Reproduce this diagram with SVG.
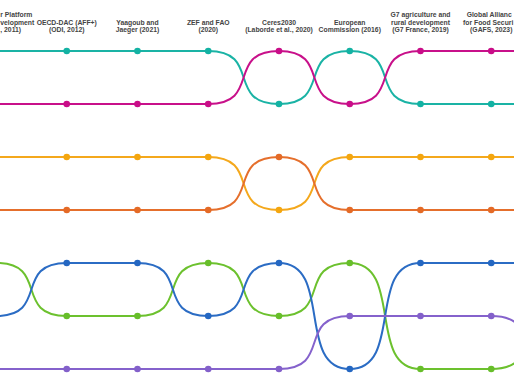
<svg xmlns="http://www.w3.org/2000/svg" width="514" height="386" viewBox="0 0 514 386">
<style>
.flow{fill:none;stroke-width:2;stroke-linejoin:round}
.lbl{font-family:"Liberation Sans",Arial,sans-serif;font-size:6.8px;font-weight:bold;fill:#444;text-anchor:middle}
.st{text-anchor:start}
.s-teal{stroke:#1AB3A5}.s-mag{stroke:#C8108A}.s-yel{stroke:#F4A81C}.s-org{stroke:#E56F2C}.s-blu{stroke:#2B6CC4}.s-grn{stroke:#6CC12E}.s-pur{stroke:#8562CC}
.teal{fill:#13B2A3}.mag{fill:#C90D88}.yel{fill:#F4A60F}.org{fill:#E46A26}.blu{fill:#2467C2}.grn{fill:#67BE2A}.pur{fill:#8360CA}
</style>
<rect width="514" height="386" fill="#fff"/>
<g id="connectors">
<path class="flow s-teal" d="M-4,51 L208.25,51 C262.05,51 225.2,104 279,104 C332.8,104 295.95,51 349.75,51 C403.55,51 366.7,104 420.5,104 L562,104"/>
<path class="flow s-mag" d="M-4,104 L208.25,104 C262.05,104 225.2,51 279,51 C332.8,51 295.95,104 349.75,104 C403.55,104 366.7,51 420.5,51 L562,51"/>
<path class="flow s-yel" d="M-4,157 L208.25,157 C262.05,157 225.2,210 279,210 C332.8,210 295.95,157 349.75,157 L562,157"/>
<path class="flow s-org" d="M-4,210 L208.25,210 C262.05,210 225.2,157 279,157 C332.8,157 295.95,210 349.75,210 L562,210"/>
<path class="flow s-grn" d="M-4,263 C49.8,263 12.95,316 66.75,316 L137.5,316 C191.3,316 154.45,263 208.25,263 C262.05,263 225.2,316 279,316 C332.8,316 295.95,263 349.75,263 C403.55,263 366.7,369 420.5,369 L491.25,369 C545.05,369 508.2,316 562,316"/>
<path class="flow s-blu" d="M-4,316 C49.8,316 12.95,263 66.75,263 L137.5,263 C191.3,263 154.45,316 208.25,316 C262.05,316 225.2,263 279,263 C332.8,263 295.95,369 349.75,369 C403.55,369 366.7,263 420.5,263 L562,263"/>
<path class="flow s-pur" d="M-4,369 L279,369 C332.8,369 295.95,316 349.75,316 L491.25,316 C545.05,316 508.2,369 562,369"/>
</g>
<g id="col-gdprd">
<text class="lbl st" x="0.3" y="17.4">r Platform</text>
<text class="lbl st" x="0.3" y="24.9">velopment</text>
<text class="lbl st" x="0.3" y="32.4">, 2011)</text>
</g>
<g id="col-oecd">
<text class="lbl" x="66.75" y="24.9">OECD-DAC (AFF+)</text>
<text class="lbl" x="66.75" y="32.4">(ODI, 2012)</text>
<circle class="teal" cx="66.75" cy="51" r="3.3"/><circle class="mag" cx="66.75" cy="104" r="3.3"/><circle class="yel" cx="66.75" cy="157" r="3.3"/><circle class="org" cx="66.75" cy="210" r="3.3"/><circle class="blu" cx="66.75" cy="263" r="3.3"/><circle class="grn" cx="66.75" cy="316" r="3.3"/><circle class="pur" cx="66.75" cy="369" r="3.3"/>
</g>
<g id="col-yaagoub">
<text class="lbl" x="137.5" y="24.9">Yaagoub and</text>
<text class="lbl" x="137.5" y="32.4">Jaeger (2021)</text>
<circle class="teal" cx="137.5" cy="51" r="3.3"/><circle class="mag" cx="137.5" cy="104" r="3.3"/><circle class="yel" cx="137.5" cy="157" r="3.3"/><circle class="org" cx="137.5" cy="210" r="3.3"/><circle class="blu" cx="137.5" cy="263" r="3.3"/><circle class="grn" cx="137.5" cy="316" r="3.3"/><circle class="pur" cx="137.5" cy="369" r="3.3"/>
</g>
<g id="col-zef">
<text class="lbl" x="208.25" y="24.9">ZEF and FAO</text>
<text class="lbl" x="208.25" y="32.4">(2020)</text>
<circle class="teal" cx="208.25" cy="51" r="3.3"/><circle class="mag" cx="208.25" cy="104" r="3.3"/><circle class="yel" cx="208.25" cy="157" r="3.3"/><circle class="org" cx="208.25" cy="210" r="3.3"/><circle class="grn" cx="208.25" cy="263" r="3.3"/><circle class="blu" cx="208.25" cy="316" r="3.3"/><circle class="pur" cx="208.25" cy="369" r="3.3"/>
</g>
<g id="col-ceres">
<text class="lbl" x="279" y="24.9">Ceres2030</text>
<text class="lbl" x="279" y="32.4">(Laborde et al., 2020)</text>
<circle class="mag" cx="279" cy="51" r="3.3"/><circle class="teal" cx="279" cy="104" r="3.3"/><circle class="org" cx="279" cy="157" r="3.3"/><circle class="yel" cx="279" cy="210" r="3.3"/><circle class="blu" cx="279" cy="263" r="3.3"/><circle class="grn" cx="279" cy="316" r="3.3"/><circle class="pur" cx="279" cy="369" r="3.3"/>
</g>
<g id="col-ec">
<text class="lbl" x="349.75" y="24.9">European</text>
<text class="lbl" x="349.75" y="32.4">Commission (2016)</text>
<circle class="teal" cx="349.75" cy="51" r="3.3"/><circle class="mag" cx="349.75" cy="104" r="3.3"/><circle class="yel" cx="349.75" cy="157" r="3.3"/><circle class="org" cx="349.75" cy="210" r="3.3"/><circle class="grn" cx="349.75" cy="263" r="3.3"/><circle class="pur" cx="349.75" cy="316" r="3.3"/><circle class="blu" cx="349.75" cy="369" r="3.3"/>
</g>
<g id="col-g7">
<text class="lbl" x="420.5" y="17.4">G7 agriculture and</text>
<text class="lbl" x="420.5" y="24.9">rural development</text>
<text class="lbl" x="420.5" y="32.4">(G7 France, 2019)</text>
<circle class="mag" cx="420.5" cy="51" r="3.3"/><circle class="teal" cx="420.5" cy="104" r="3.3"/><circle class="yel" cx="420.5" cy="157" r="3.3"/><circle class="org" cx="420.5" cy="210" r="3.3"/><circle class="blu" cx="420.5" cy="263" r="3.3"/><circle class="pur" cx="420.5" cy="316" r="3.3"/><circle class="grn" cx="420.5" cy="369" r="3.3"/>
</g>
<g id="col-gafs">
<text class="lbl st" x="466.7" y="17.4">Global Allianc</text>
<text class="lbl st" x="463.1" y="24.9">for Food Securi</text>
<text class="lbl" x="491.25" y="32.4">(GAFS, 2023)</text>
<circle class="mag" cx="491.25" cy="51" r="3.3"/><circle class="teal" cx="491.25" cy="104" r="3.3"/><circle class="yel" cx="491.25" cy="157" r="3.3"/><circle class="org" cx="491.25" cy="210" r="3.3"/><circle class="blu" cx="491.25" cy="263" r="3.3"/><circle class="pur" cx="491.25" cy="316" r="3.3"/><circle class="grn" cx="491.25" cy="369" r="3.3"/>
</g>
</svg>
